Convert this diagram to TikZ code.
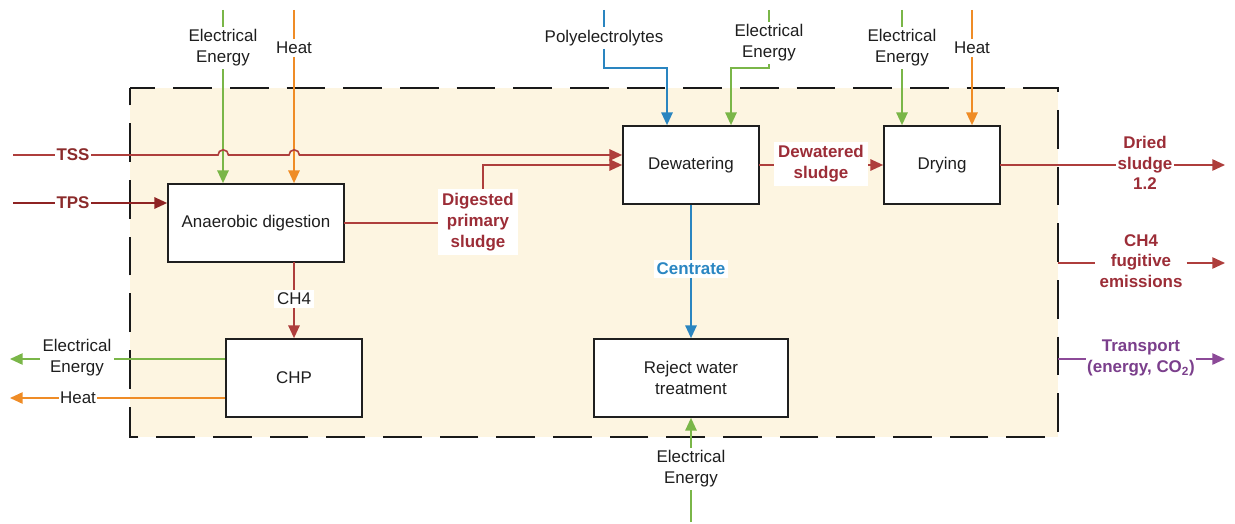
\documentclass[tikz,border=0pt]{standalone}
\usepackage{fontspec}
\setmainfont{Liberation Sans}
\usetikzlibrary{arrows.meta,calc}

\definecolor{cream}{HTML}{FDF5E1}
\definecolor{txt}{HTML}{1E1E1E}
\definecolor{flowgreen}{HTML}{7AB648}
\definecolor{floworange}{HTML}{EF8C26}
\definecolor{flowblue}{HTML}{2A85C0}
\definecolor{flowred}{HTML}{AE3E3C}
\definecolor{flowdark}{HTML}{8E2323}
\definecolor{flowpurple}{HTML}{8C4A98}
\definecolor{textred}{HTML}{9C2D37}
\definecolor{textmaroon}{HTML}{8B2B2B}
\definecolor{textpurple}{HTML}{7B3F8C}
\definecolor{textblue}{HTML}{2A86C2}

\begin{document}
\begin{tikzpicture}[x=0.75pt,y=-0.75pt,
  font=\fontsize{12.7}{15.6}\selectfont,
  flow/.style={line width=1.2pt, line cap=butt},
  tip/.style={-{Triangle[length=9.5pt,width=8.5pt]}},
  proc/.style={draw=black!88, line width=1.3pt, fill=white, align=center,
    text=txt, minimum height=58.5pt},
  lab/.style={fill=white, inner sep=2pt, align=center, text=txt},
  blab/.style={lab, font=\fontsize{12.7}{15.6}\selectfont\bfseries},
]
\useasboundingbox (0,0) rectangle (1235,524);

% ---- system boundary
\fill[cream] (130,88) rectangle (1058,437);
\draw[black!90, line width=1.6pt, dash pattern=on 29pt off 13.5pt, dash phase=10pt]
  (130,88) -- (1058,88) -- (1058,437) -- (130,437) -- cycle;

% ---- process boxes
\node[proc, minimum width=132pt]   (ad)  at (256,223) {Anaerobic digestion};
\node[proc, minimum width=102pt]   (chp) at (294,378) {CHP};
\node[proc, minimum width=102pt]   (dw)  at (691,165) {Dewatering};
\node[proc, minimum width=87pt]    (dry) at (942,165) {Drying};
\node[proc, minimum width=145.5pt] (rwt) at (691,378) {Reject water\\treatment};

% ---- stream labels
\node[lab] (eeAD)  at (223,48)  {Electrical\\Energy};
\node[lab] (htAD)  at (294,48)  {Heat};
\node[lab] (poly)  at (604,38)  {Polyelectrolytes};
\node[lab] (eeDW)  at (769,43)  {Electrical\\Energy};
\node[lab] (eeDR)  at (902,48)  {Electrical\\Energy};
\node[lab] (htDR)  at (972,48)  {Heat};
\node[blab, inner sep=1pt, text=textmaroon] (tss) at (73,155) {TSS};
\node[blab, inner sep=1pt, text=textmaroon] (tps) at (73,203) {TPS};
\node[blab, inner sep=3pt, text=textred] (dps) at (478,222) {Digested\\primary\\sludge};
\node[blab, inner sep=3pt, text=textred] (dws) at (821,164) {Dewatered\\sludge};
\node[lab, inner sep=2pt] (ch4) at (294,299) {CH4};
\node[lab] (eeCHP) at (77,358)  {Electrical\\Energy};
\node[lab, inner sep=1pt] (htCHP) at (78,398)  {Heat};
\node[blab, text=textblue] (cen) at (691,269) {Centrate};
\node[lab] (eeRW)  at (691,469) {Electrical\\Energy};
\node[blab, inner sep=1pt, text=textred] (dried) at (1145,163) {Dried\\sludge\\1.2};
\node[blab, inner sep=3pt, text=textred] (fug) at (1141,261) {CH4\\fugitive\\emissions};
\node[blab, inner sep=1pt, text=textpurple] (trans) at (1141,358) {Transport\\(energy, CO\textsubscript{2})};

% ---- free ends and bends
\coordinate (aEEtop)   at (223,10);
\coordinate (aHtop)    at (294,10);
\coordinate (polyTop)  at (604,10);
\coordinate (polyBend) at (667,68);
\coordinate (dEEtop)   at (769,10);
\coordinate (dEEbend)  at (731,68);
\coordinate (rEEtop)   at (902,10);
\coordinate (rHtop)    at (972,10);
\coordinate (tssIn)    at (13,155);
\coordinate (tpsIn)    at (13,203);
\coordinate (chpEEout) at (10,359);
\coordinate (chpHout)  at (10,398);
\coordinate (rwEEin)   at (691,522);
\coordinate (adOut)    at (344,223);
\coordinate (dpsBend)  at (483,165);
\coordinate (dwOut)    at (759,165);
\coordinate (dryOut)   at (1000,165);
\coordinate (driedEnd) at (1225,165);
\coordinate (adDown)   at (294,262);
\coordinate (fugA)     at (1058,263);
\coordinate (fugB)     at (1225,263);
\coordinate (trA)      at (1058,359);
\coordinate (trB)      at (1225,359);

% ---- energy and chemical inputs
\draw[flow, flowgreen]       (aEEtop) -- (eeAD.north);
\draw[flow, flowgreen, tip]  (eeAD.south) -- (ad.north -| eeAD);
\draw[flow, floworange]      (aHtop) -- (htAD.north);
\draw[flow, floworange, tip] (htAD.south) -- (ad.north -| htAD);
\draw[flow, flowblue]        (polyTop) -- (poly.north -| polyTop);
\draw[flow, flowblue, tip]   (poly.south -| polyTop) |- (polyBend) -- (polyBend |- dw.north);
\draw[flow, flowgreen]       (dEEtop) -- (eeDW.north);
\draw[flow, flowgreen, tip]  (eeDW.south) |- (dEEbend) -- (dEEbend |- dw.north);
\draw[flow, flowgreen]       (rEEtop) -- (eeDR.north);
\draw[flow, flowgreen, tip]  (eeDR.south) -- (dry.north -| eeDR);
\draw[flow, floworange]      (rHtop) -- (htDR.north);
\draw[flow, floworange, tip] (htDR.south) -- (dry.north -| htDR);
\draw[flow, flowgreen]       (rwEEin) -- (eeRW.south);
\draw[flow, flowgreen, tip]  (eeRW.north) -- (rwt.south);

% ---- sludge line, hopping over the two vertical inputs
\draw[flow, flowred] (tssIn) -- (tss.west);
\draw[flow, flowred, tip] (tss.east) -- (218,155)
  arc[start angle=180, end angle=0, radius=3.9pt] -- (289,155)
  arc[start angle=180, end angle=0, radius=3.9pt] -- (dw.west |- tssIn);
\draw[flow, flowdark] (tpsIn) -- (tps.west);
\draw[flow, flowdark, tip] (tps.east) -- (ad.west |- tpsIn);
\draw[flow, flowred] (adOut) -- (dps.west |- adOut);
\draw[flow, flowred, tip] (dps.north -| dpsBend) -- (dpsBend) -- (dw.west |- dpsBend);
\draw[flow, flowred] (dwOut) -- (dws.west |- dwOut);
\draw[flow, flowred, tip] (dws.east |- dry.west) -- (dry.west);
\draw[flow, flowred] (dryOut) -- (dried.west |- dryOut);
\draw[flow, flowred, tip] (dried.east |- dryOut) -- (driedEnd);
\draw[flow, flowred] (adDown) -- (ch4.north);
\draw[flow, flowred, tip] (ch4.south) -- (chp.north -| ch4);
\draw[flow, flowblue] (dw.south) -- (cen.north);
\draw[flow, flowblue, tip] (cen.south) -- (rwt.north);

% ---- outputs
\draw[flow, flowgreen] (chp.west |- chpEEout) -- (eeCHP.east |- chpEEout);
\draw[flow, flowgreen, tip] (eeCHP.west |- chpEEout) -- (chpEEout);
\draw[flow, floworange] (chp.west |- chpHout) -- (htCHP.east |- chpHout);
\draw[flow, floworange, tip] (htCHP.west |- chpHout) -- (chpHout);
\draw[flow, flowred] (fugA) -- (fug.west |- fugA);
\draw[flow, flowred, tip] (fug.east |- fugB) -- (fugB);
\draw[flow, flowpurple] (trA) -- (trans.west |- trA);
\draw[flow, flowpurple, tip] (trans.east |- trB) -- (trB);
\end{tikzpicture}
\end{document}
